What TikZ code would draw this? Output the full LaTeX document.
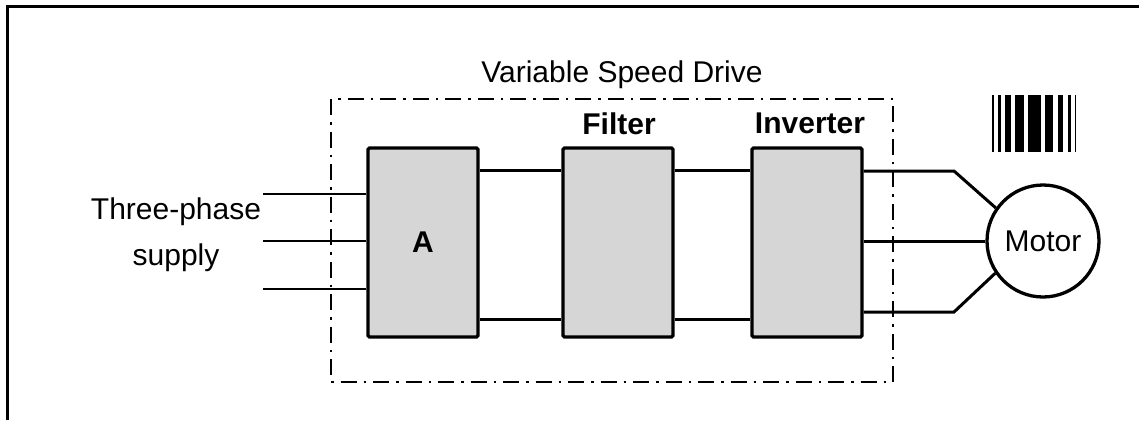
\documentclass[tikz,border=0pt]{standalone}
\usepackage{fontspec}
\setmainfont{Liberation Sans}
\usetikzlibrary{positioning,calc}
\definecolor{boxgray}{RGB}{214,214,214}
\tikzset{
  stage/.style={draw, line width=3.3pt, fill=boxgray, rounded corners=1.5pt, minimum width=110pt, minimum height=189pt, inner sep=0pt, font=\fontsize{30}{36}\selectfont\bfseries},
  wire/.style={line width=3pt},
  thinwire/.style={line width=1.5pt},
  dashdot/.style={line width=2.8pt, dash pattern=on 16pt off 7pt on 2.5pt off 7pt},
  lbl/.style={inner sep=0pt, align=center},
  boldlbl/.style={lbl, font=\fontsize{30}{36}\selectfont\bfseries}
}
\begin{document}
\begin{tikzpicture}[x=1pt, y=-1pt, font=\fontsize{30}{46}\selectfont]
        \useasboundingbox (0,0) rectangle (1139,420);
        \draw [line width=3.4pt] (7.5,420) -- (7.5,6.5) -- (1139,6.5);

        \draw [dashdot] (331,99) rectangle (893,382);
        \node [lbl] (vsd) at (622,75) {Variable Speed Drive};

        \node [stage] (A) at (423,242.5) {A};
        \node [stage] (filter) at (618,242.5) {};
        \node [stage] (inverter) at (807,242.5) {};
        \node [boldlbl] (filtertxt) at (619,124) {Filter};
        \node [boldlbl] (invtxt) at (810,123) {Inverter};

        \draw [wire] ([yshift=-24pt]A.north east) -- ([yshift=-24pt]filter.north west);
        \draw [wire] ([yshift=19pt]A.south east) -- ([yshift=19pt]filter.south west);
        \draw [wire] ([yshift=-24pt]filter.north east) -- ([yshift=-24pt]inverter.north west);
        \draw [wire] ([yshift=19pt]filter.south east) -- ([yshift=19pt]inverter.south west);

        \coordinate (in1) at (263,194);
        \coordinate (in2) at (263,241);
        \coordinate (in3) at (263,289);
        \draw [thinwire] (in1) -- (in1 -| A.west);
        \draw [thinwire] (in2) -- (in2 -| A.west);
        \draw [thinwire] (in3) -- (in3 -| A.west);
        \node [lbl] (supply) at (176,235) {Three-phase\\supply};

        \node [draw, circle, line width=3.3pt, minimum size=112pt, inner sep=0pt] (motor) at (1043,241) {Motor};
        \coordinate (out1) at (954,171);
        \coordinate (out3) at (954,312);
        \draw [wire] (out1 -| inverter.east) -- (out1) -- (motor.145);
        \draw [wire] (inverter.east |- motor.west) -- (motor.west);
        \draw [wire] (out3 -| inverter.east) -- (out3) -- (motor.214);

        \foreach \a/\b in {992.3/993.5, 997.7/1000.5, 1005/1010.5, 1015/1023.5, 1027.7/1040.8, 1045/1053.2, 1057.7/1063.2, 1067.7/1070.5, 1075/1076.2}
          \fill (\a,95) rectangle (\b,152);
\end{tikzpicture}
\end{document}
